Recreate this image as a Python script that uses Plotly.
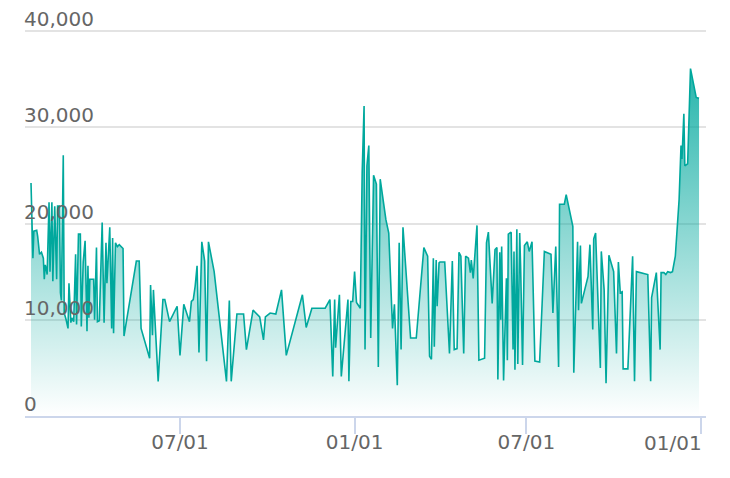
import pandas as pd
import plotly.graph_objects as go

start_date = "2021-01-01"

# days since 2021-01-01 for each observation
day_offsets = [
    24, 26, 27, 30, 31, 33, 35, 37, 38, 39, 40, 41, 43, 44, 46, 47, 49, 51, 52, 54,
    55, 56, 58, 59, 61, 63, 64, 66, 67, 69, 71, 72, 74, 76, 77, 79, 81, 83, 84, 85,
    86, 88, 90, 91, 93, 94, 96, 99, 101, 103, 104, 107, 109, 110, 111, 113, 115, 117, 121, 122,
    135, 138, 140, 149, 150, 152, 153, 158, 163, 165, 170, 178, 181, 185, 191, 193, 195, 197, 199, 201,
    204, 207, 209, 211, 217, 230, 233, 235, 241, 248, 251, 258, 265, 269, 271, 276, 282, 288, 293, 310,
    314, 320, 334, 339, 342, 344, 345, 349, 351, 358, 359, 361, 363, 365, 367, 371, 373, 375, 376, 378,
    380, 382, 385, 388, 390, 392, 398, 401, 405, 407, 408, 410, 412, 414, 416, 424, 430, 438, 442, 444,
    446, 448, 449, 451, 452, 454, 455, 457, 460, 465, 468, 470, 473, 475, 477, 480, 482, 485, 487, 488,
    490, 494, 496, 502, 504, 506, 510, 513, 515, 516, 518, 519, 520, 522, 525, 526, 527, 530, 532, 533,
    534, 536, 537, 539, 540, 542, 544, 547, 549, 552, 555, 560, 565, 572, 574, 577, 580, 581, 586, 588,
    595, 596, 600, 601, 603, 604, 611, 613, 616, 617, 619, 624, 625, 628, 630, 633, 638, 641, 643, 645,
    647, 648, 653, 658, 660, 662, 674, 677, 678, 683, 687, 688, 691, 693, 695, 698, 700, 703, 705, 707,
    709, 710, 712, 713, 716, 719, 725, 728,
]

values = [
    24200, 16400, 19200, 19300, 18700, 16800, 17000, 16400, 14200, 15700, 15300, 14700, 22200, 15000, 22200, 14000, 21800, 14200, 21800, 21800,
    12800, 12000, 27100, 10700, 10000, 9100, 13800, 9700, 10200, 9800, 16800, 9500, 18900, 18900, 9300, 16000, 18200, 8800, 15600, 10200,
    14200, 14200, 14200, 10000, 17500, 9800, 9900, 20100, 9700, 18000, 13800, 19600, 9100, 18500, 8600, 18000, 17600, 17800, 17400, 8300,
    16100, 16100, 9100, 6000, 13600, 8400, 13100, 3600, 12100, 12100, 9800, 11400, 6300, 11600, 9800, 11900, 12100, 13500, 15600, 6600,
    18100, 16100, 5700, 18100, 15000, 3600, 12000, 3600, 10600, 10600, 6900, 11000, 10300, 7900, 10300, 10700, 10600, 13100, 6300, 12600,
    9200, 11200, 11200, 12100, 4100, 12100, 7100, 12600, 4100, 12100, 3600, 11900, 11900, 15000, 11800, 11200, 25300, 32200, 6900, 26000,
    28100, 8100, 25000, 24100, 5100, 24600, 20400, 19000, 9100, 11600, 9000, 3200, 18000, 6900, 19600, 8100, 8100, 17500, 16600, 6200,
    5900, 16400, 7200, 16200, 11400, 15900, 16000, 16000, 16000, 6500, 16100, 6900, 7000, 17000, 16600, 6500, 16600, 16400, 14900, 16200,
    14300, 19800, 5800, 6000, 18000, 19100, 11700, 17300, 17500, 3800, 17000, 10000, 17600, 3700, 14300, 5800, 18900, 19100, 6900, 17100,
    4800, 19400, 5400, 19000, 15400, 5300, 17700, 18100, 17100, 18100, 5700, 5600, 17100, 16800, 10700, 17600, 5100, 22000, 22000, 23000,
    19700, 4500, 18100, 11000, 17700, 11700, 14500, 17800, 9000, 18400, 19000, 5000, 17100, 13100, 3400, 16700, 15000, 6500, 16000, 12800,
    12900, 4900, 4900, 16600, 3600, 15000, 14700, 3600, 12300, 14900, 6900, 14900, 14900, 14700, 15000, 14900, 15000, 16600, 19500, 22500,
    28100, 26700, 31400, 26000, 26200, 36100, 33100, 33000,
]

x_tick_dates = ["2021-07-01", "2022-01-01", "2022-07-01", "2023-01-01"]
x_tick_labels = ["07/01", "01/01", "07/01", "01/01"]
y_tick_values = [0, 10000, 20000, 30000, 40000]
y_tick_labels = ["0", "10,000", "20,000", "30,000", "40,000"]

dates = pd.to_datetime(start_date) + pd.to_timedelta(day_offsets, unit="D")

teal = "0,168,157"
font = dict(family="DejaVu Sans", size=20, color="#666666")

fig = go.Figure()
fig.add_trace(go.Scatter(
    x=dates,
    y=values,
    mode="lines",
    line=dict(color=f"rgb({teal})", width=1.6),
    fill="tozeroy",
    fillgradient=dict(
        type="vertical",
        start=0,
        stop=max(values),
        colorscale=[[0, f"rgba({teal},0.0)"], [1, f"rgba({teal},0.85)"]],
    ),
    hoverinfo="skip",
    showlegend=False,
))

# last tick label is kept inside the chart (right-aligned to its tick)
shown_tick_text = x_tick_labels[:-1] + [""]
fig.add_annotation(
    x=x_tick_dates[-1],
    xref="x",
    y=0,
    yref="paper",
    text=x_tick_labels[-1],
    showarrow=False,
    xanchor="right",
    yanchor="middle",
    xshift=3,
    yshift=-27,
    font=font,
)

fig.update_layout(
    width=730,
    height=478,
    margin=dict(l=25, r=24, t=0, b=62),
    paper_bgcolor="white",
    plot_bgcolor="white",
    font=font,
    xaxis=dict(
        type="date",
        range=["2021-01-18 16:00", "2023-01-06 08:00"],
        tickvals=x_tick_dates,
        ticktext=shown_tick_text,
        showgrid=False,
        showline=True,
        linecolor="#ccd6eb",
        linewidth=2,
        ticks="outside",
        ticklen=16,
        tickwidth=2,
        tickcolor="#ccd6eb",
        tickfont=font,
        ticklabelstandoff=-9,
        zeroline=False,
    ),
    yaxis=dict(
        range=[0, 43220],
        tickvals=y_tick_values,
        ticktext=y_tick_labels,
        ticklabelposition="inside top",
        ticklabelstandoff=-4,
        ticklabelshift=2,
        ticks="",
        showgrid=True,
        gridcolor="#e3e3e3",
        gridwidth=1.5,
        showline=False,
        zeroline=False,
        tickfont=font,
    ),
)

fig.write_html(
    "out.html",
    config={"displayModeBar": False},
    post_script="document.body.style.margin='0';document.body.style.overflow='hidden';",
)
